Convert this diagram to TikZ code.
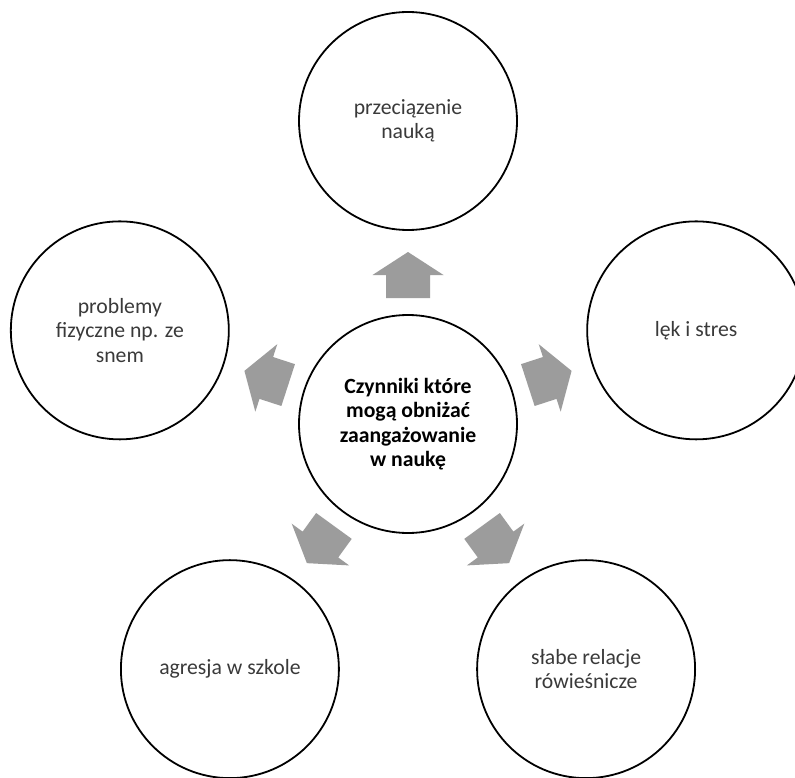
\documentclass[tikz,border=0pt]{standalone}
\usepackage{fontspec}
\setmainfont{Carlito}
\usetikzlibrary{calc}
\definecolor{arrowgray}{HTML}{9C9C9C}
\definecolor{labelgray}{HTML}{3A3A3A}
\begin{document}
\begin{tikzpicture}[x=1pt,y=1pt,
  bubble/.style={circle, draw=black, line width=1.8pt, minimum size=218pt,
    inner sep=0pt, align=center, text=labelgray,
    font=\fontsize{21.7}{24.5}\selectfont},
  hub/.style={bubble, text=black, font=\fontsize{21.7}{24.5}\selectfont\bfseries},
  blockarrow/.style={fill=arrowgray, draw=none}]
\clip (0,0) rectangle (795,-778);
\fill[white] (0,0) rectangle (795,-778);
% central topic
\node[hub] (hub) at (408,-424) {Czynniki które\\mogą obniżać\\zaangażowanie\\w naukę};
% surrounding factors on a regular pentagon
\node[bubble] (top)   at ($(hub.center)+(90:303)$)  {przeciązenie\\nauką};
\node[bubble] (right) at ($(hub.center)+(18:303)$)  {lęk i stres};
\node[bubble] (bright) at ($(hub.center)+(-54:303)$) {słabe relacje\\rówieśnicze};
\node[bubble] (bleft) at ($(hub.center)+(234:303)$) {agresja w szkole};
\node[bubble] (left)  at ($(hub.center)+(162:303)$) {problemy\\fizyczne np. ze\\snem};
% outward block arrows between the hub and each factor
\foreach \ang in {90,18,-54,234,162}
  \fill[blockarrow, shift={(hub.center)}, rotate=\ang]
    (126,-22) -- (149,-22) -- (149,-35.5) -- (172,0) -- (149,35.5)
    -- (149,22) -- (126,22) -- cycle;
\end{tikzpicture}
\end{document}
